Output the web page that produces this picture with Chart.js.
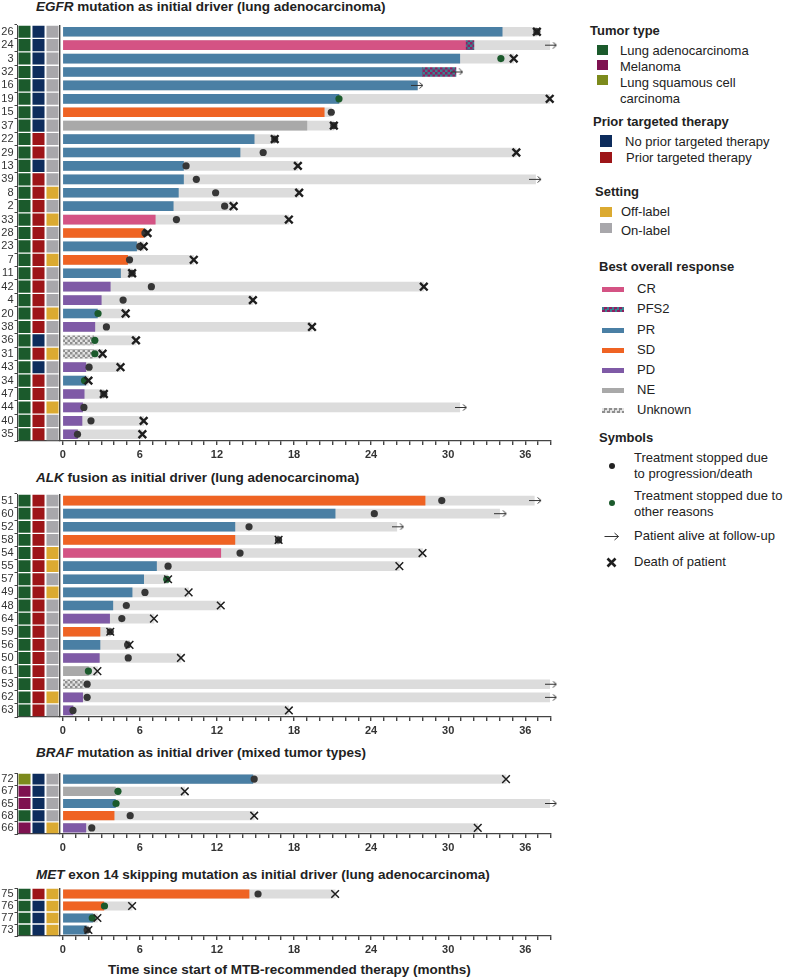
<!DOCTYPE html>
<html>
<head>
<meta charset="utf-8">
<script src="https://cdn.jsdelivr.net/npm/chart.js@4.4.0/dist/chart.umd.min.js"></script>
<style>
body { margin:0; background:#fff; font-family:"Liberation Sans", Arial, sans-serif; color:#222; }
#page { position:relative; width:785px; height:979px; overflow:hidden; }
canvas { position:absolute; left:0; }
.ptitle { position:absolute; left:36px; font-weight:bold; font-size:13.5px; line-height:16px; white-space:nowrap; }
.lg { position:absolute; font-size:13px; line-height:16px; white-space:nowrap; color:#222; }
.lh { font-weight:bold; }
.sw { position:absolute; width:12px; height:11px; }
.ln { position:absolute; width:22px; height:5px; }
svg.sym { position:absolute; }
</style>
</head>
<body>
<div id="page">
  <div class="ptitle" style="top:-1px"><i>EGFR</i> mutation as initial driver (lung adenocarcinoma)</div>
  <div class="ptitle" style="top:470px"><i>ALK</i> fusion as initial driver (lung adenocarcinoma)</div>
  <div class="ptitle" style="top:745px"><i>BRAF</i> mutation as initial driver (mixed tumor types)</div>
  <div class="ptitle" style="top:867px"><i>MET</i> exon 14 skipping mutation as initial driver (lung adenocarcinoma)</div>
  <div class="ptitle" style="top:962px;left:108px">Time since start of MTB-recommended therapy (months)</div>

  <canvas id="egfr" width="560" height="10"></canvas>
  <canvas id="alk" width="560" height="10"></canvas>
  <canvas id="braf" width="560" height="10"></canvas>
  <canvas id="met" width="560" height="10"></canvas>

  <div id="legend">
    <svg class="sym" style="left:604px;top:532px" width="16" height="9"><path d="M0.5 4.5 H14.5 M10.5 1 L14.5 4.5 L10.5 8" stroke="#333" stroke-width="1" fill="none"/></svg>
    <svg class="sym" style="left:606px;top:557px" width="11" height="11"><path d="M1.5 1.5 L9.5 9.5 M9.5 1.5 L1.5 9.5" stroke="#1e1e1e" stroke-width="2.6" fill="none"/></svg>
  </div>
</div>

<script>
// ---- data (months) ----
const monthTicks = [0,1,2,3,4,5,6,7,8,9,10,11,12,13,14,15,16,17,18,19,20,21,22,23,24,25,26,27,28,29,30,31,32,33,34,35,36,37,38];
const tickLabels = [0, 6, 12, 18, 24, 30, 36];

// EGFR
const egfrIds = ['26','24','3','32','16','19','15','37','22','29','13','39','8','2','33','28','23','7','11','42','4','20','38','36','31','43','34','47','44','40','35'];
const egfrTumor = ['A','A','A','A','A','A','A','A','A','A','A','A','A','A','A','A','A','A','A','A','A','A','A','A','A','A','A','A','A','A','A'];
const egfrPrior = ['N','N','N','N','N','N','N','N','P','P','N','P','P','P','P','P','P','P','P','P','P','P','P','N','P','N','P','P','P','P','P'];
const egfrSetting = ['On','On','On','On','On','On','On','On','On','On','On','On','Off','On','Off','On','On','Off','On','On','On','Off','On','On','Off','On','On','On','Off','On','On'];
const egfrResponse = ['PR','CR','PR','PR','PR','PR','SD','NE','PR','PR','PR','PR','PR','PR','CR','SD','PR','SD','PR','PD','PD','PR','PD','UNK','UNK','PD','PR','PD','PD','PD','PD'];
const egfrRespEnd = [34.2,31.4,30.9,28.0,27.6,21.5,20.35,19.0,14.9,13.8,9.4,9.4,9.0,8.6,7.2,6.3,5.75,5.05,4.5,3.7,3.0,2.7,2.5,2.4,2.4,1.8,1.8,1.67,1.55,1.5,1.15];
const egfrFollowUp = [36.9,37.9,35.1,30.6,27.6,37.9,20.9,21.1,16.5,35.3,18.3,36.8,18.4,13.3,17.6,6.5,6.3,10.2,5.4,28.1,14.8,4.9,19.4,5.7,3.1,4.5,2.0,3.2,30.9,6.3,6.2];
const egfrPfs2 = [null,[31.4,32.0],null,[28.0,30.6],null,null,null,null,null,null,null,null,null,null,null,null,null,null,null,null,null,null,null,null,null,null,null,null,null,null,null];
const egfrProgStop = [36.9,null,null,null,null,null,20.9,21.1,16.5,15.6,9.6,10.4,11.9,12.6,8.85,6.4,6.0,5.2,5.4,6.9,4.7,null,3.4,null,null,2.05,null,3.2,1.65,2.2,1.15];
const egfrOtherStop = [null,null,34.1,null,null,21.5,null,null,null,null,null,null,null,null,null,null,null,null,null,null,null,2.75,null,2.5,2.5,null,1.7,null,null,null,null];
const egfrDeath = [36.9,null,35.1,null,null,37.9,null,21.1,16.5,35.3,18.3,null,18.4,13.3,17.6,6.6,6.3,10.2,5.4,28.1,14.8,4.9,19.4,5.7,3.1,4.5,2.0,3.2,null,6.3,6.2];
const egfrAlive = [null,38.0,null,30.7,27.6,null,null,null,null,null,null,36.8,null,null,null,null,null,null,null,null,null,null,null,null,null,null,null,null,31.0,null,null];

// ALK
const alkIds = ['51','60','52','58','54','55','57','49','48','64','59','56','50','61','53','62','63'];
const alkTumor = ['A','A','A','A','A','A','A','A','A','A','A','A','A','A','A','A','A'];
const alkPrior = ['P','P','P','P','P','P','P','P','P','P','P','P','P','P','P','P','P'];
const alkSetting = ['On','On','On','On','Off','Off','On','Off','On','On','On','On','On','On','On','Off','On'];
const alkResponse = ['SD','PR','PR','SD','CR','PR','PR','PR','PR','PD','SD','PR','PD','NE','UNK','PD','PD'];
const alkRespEnd = [28.2,21.2,13.4,13.4,12.3,7.3,6.3,5.4,3.9,3.65,2.9,2.9,2.85,2.0,1.6,1.55,0.8];
const alkFollowUp = [36.7,34.0,26.0,16.8,28.0,26.2,8.2,9.8,12.3,7.1,3.7,5.2,9.2,2.7,37.9,37.9,17.6];
const alkProgStop = [29.5,24.25,14.5,16.8,13.8,8.2,null,6.4,4.95,4.6,3.7,5.05,5.1,null,1.9,1.9,0.8];
const alkOtherStop = [null,null,null,null,null,null,8.1,null,null,null,null,null,null,2.0,null,null,null];
const alkDeath = [null,null,null,16.8,28.0,26.2,8.2,9.8,12.3,7.1,3.7,5.2,9.2,2.7,null,null,17.6];
const alkAlive = [36.8,34.1,26.1,null,null,null,null,null,null,null,null,null,null,null,38.0,38.0,null];

// BRAF
const brafIds = ['72','67','65','68','66'];
const brafTumor = ['S','M','M','A','M'];
const brafPrior = ['N','N','N','N','N'];
const brafSetting = ['On','On','On','On','Off'];
const brafResponse = ['PR','NE','PR','SD','PD'];
const brafRespEnd = [14.8,4.1,4.1,4.0,1.8];
const brafFollowUp = [34.5,9.5,37.9,14.9,32.3];
const brafProgStop = [14.9,null,null,5.25,2.26];
const brafOtherStop = [null,4.3,4.15,null,null];
const brafDeath = [34.5,9.5,null,14.9,32.3];
const brafAlive = [null,null,38.0,null,null];

// MET
const metIds = ['75','76','77','73'];
const metTumor = ['A','A','A','A'];
const metPrior = ['P','N','N','N'];
const metSetting = ['Off','Off','Off','Off'];
const metResponse = ['SD','SD','PR','PR'];
const metRespEnd = [14.5,3.2,2.35,1.85];
const metFollowUp = [21.2,5.4,2.7,2.0];
const metProgStop = [15.2,null,null,1.9];
const metOtherStop = [null,3.25,2.3,null];
const metDeath = [21.2,5.4,2.7,2.0];
const metAlive = [null,null,null,null];

// ---- colours ----
const tumorColor = { A:'#1b5a2c', M:'#7e1250', S:'#7c8a1c' };
const priorColor = { N:'#0d2c5c', P:'#9d1518' };
const settingColor = { Off:'#dbaa31', On:'#a8a7ab' };
const FONT = '"Liberation Sans", Arial, sans-serif';
Chart.defaults.font.family = FONT;

function checker(a, b, s) {
  const c = document.createElement('canvas');
  c.width = s * 2; c.height = s * 2;
  const g = c.getContext('2d');
  g.fillStyle = a; g.fillRect(0, 0, s * 2, s * 2);
  g.fillStyle = b; g.fillRect(0, 0, s, s); g.fillRect(s, s, s, s);
  return g.createPattern(c, 'repeat');
}
const unknownFill = checker('#e2e2e2', '#8f8f8f', 2.5);
const pfs2Fill = checker('#3b8090', '#8e1e62', 2.5);
const responseColor = { CR:'#d45384', PR:'#4a7fa4', SD:'#ef6323', PD:'#7f5aa6', NE:'#a9a9a9', UNK:unknownFill };

// arrow symbol for "alive at follow-up"
const arrowImg = (function () {
  const c = document.createElement('canvas');
  c.width = 13; c.height = 7;
  const g = c.getContext('2d');
  g.strokeStyle = '#333'; g.lineWidth = 1;
  g.beginPath(); g.moveTo(0, 3.5); g.lineTo(12, 3.5); g.stroke();
  g.beginPath(); g.moveTo(8.5, 0.5); g.lineTo(12, 3.5); g.lineTo(8.5, 6.5); g.stroke();
  return c;
})();

function pts(ids, vals) {
  const out = [];
  ids.forEach((id, i) => { if (vals[i] != null) out.push({ x: vals[i], y: id }); });
  return out;
}

function drawPanel(id, p, look) {
  const cv = document.getElementById(id);
  const padTop = 8, axisH = 30;
  cv.style.top = (look.top - padTop) + 'px';
  cv.height = look.bottom - look.top + padTop + axisH;
  const step = (look.bottom - look.top) / p.ids.length;
  const cellPct = (step - 1.3) / step;
  const cells = (col) => p.ids.map(() => [col + 0.07, col + 0.93]);
  const bar = { type:'bar', xAxisID:'x', grouped:false, barThickness:look.bar, borderWidth:0 };
  const heat = { type:'bar', xAxisID:'xh', grouped:false, categoryPercentage:1, barPercentage:cellPct, borderWidth:0, order:10 };
  const sym = { type:'scatter', xAxisID:'x', yAxisID:'y', clip:false };

  new Chart(cv, {
    type: 'bar',
    data: {
      labels: p.ids,
      datasets: [
        Object.assign({}, heat, { label:'Tumor type', data:cells(0), backgroundColor:p.tumor.map(t => tumorColor[t]) }),
        Object.assign({}, heat, { label:'Prior targeted therapy', data:cells(1), backgroundColor:p.prior.map(t => priorColor[t]) }),
        Object.assign({}, heat, { label:'Setting', data:cells(2), backgroundColor:p.setting.map(t => settingColor[t]) }),
        Object.assign({}, bar, { label:'Follow-up', data:p.followUp.map(v => [0, v]), backgroundColor:'#dcdcdc', order:9 }),
        Object.assign({}, bar, { label:'Best overall response', data:p.respEnd.map(v => [0, v]), backgroundColor:p.response.map(r => responseColor[r]), order:8 }),
        Object.assign({}, bar, { label:'PFS2', data:p.pfs2 || [], backgroundColor:pfs2Fill, order:7 }),
        Object.assign({}, sym, { label:'Stopped: progression/death', data:pts(p.ids, p.prog), pointStyle:'circle', pointRadius:3.6, pointBackgroundColor:'#363636', pointBorderWidth:0, order:3 }),
        Object.assign({}, sym, { label:'Stopped: other reasons', data:pts(p.ids, p.other), pointStyle:'circle', pointRadius:3.6, pointBackgroundColor:'#1b5a2c', pointBorderWidth:0, order:2 }),
        Object.assign({}, sym, { label:'Death', data:pts(p.ids, p.death), pointStyle:'crossRot', pointRadius:look.xr, pointBorderColor:'#1e1e1e', pointBorderWidth:look.xw, order:1 }),
        Object.assign({}, sym, { label:'Alive', data:pts(p.ids, p.alive), pointStyle:arrowImg, pointRadius:5, order:0 })
      ]
    },
    options: {
      indexAxis: 'y',
      responsive: false,
      animation: false,
      layout: { padding: { top: padTop, right: 9, bottom: 0, left: 0 } },
      plugins: { legend: { display:false }, tooltip: { enabled:false }, title: { display:false } },
      scales: {
        y: {
          type: 'category', position: 'left', offset: true,
          grid: { drawOnChartArea:false, drawTicks:true, tickLength:3, tickColor:'#444' },
          border: { display:true, color:'#444', width:1 },
          ticks: { font:{ size:11 }, color:'#333', padding:1, autoSkip:false },
          afterFit: s => { s.width = 17.5; }
        },
        xh: {
          type: 'linear', position: 'bottom', min: 0, max: 3, stack: 'time', stackWeight: 42,
          grid: { display:false },
          border: { display:true, color:'#444', width:1.3 },
          ticks: { display:false },
          afterFit: s => { s.height = axisH; }
        },
        x: {
          type: 'linear', position: 'bottom', min: -0.25, max: 38, stack: 'time', stackWeight: 491.5,
          afterBuildTicks: s => { s.ticks = [-0.25].concat(monthTicks).map(v => ({ value: v })); },
          grid: {
            drawOnChartArea: true, drawTicks: true, tickLength: 4, lineWidth: 1.4,
            color: c => (c.tick && c.tick.value === -0.25) ? '#444' : 'rgba(0,0,0,0)',
            tickColor: c => (c.tick && c.tick.value === -0.25) ? 'rgba(0,0,0,0)' : '#444'
          },
          border: { display:true, color:'#444', width:1.3 },
          ticks: {
            autoSkip: false, maxRotation: 0, padding: 3, color: '#333',
            font: { size: 11, weight: 'bold' },
            callback: v => tickLabels.includes(v) ? String(v) : ''
          },
          afterFit: s => { s.height = axisH; }
        }
      }
    }
  });
}

drawPanel('egfr', { ids:egfrIds, tumor:egfrTumor, prior:egfrPrior, setting:egfrSetting, response:egfrResponse,
  respEnd:egfrRespEnd, followUp:egfrFollowUp, pfs2:egfrPfs2, prog:egfrProgStop, other:egfrOtherStop, death:egfrDeath, alive:egfrAlive },
  { top:25, bottom:441, bar:9, xr:5.4, xw:2.4 });
drawPanel('alk', { ids:alkIds, tumor:alkTumor, prior:alkPrior, setting:alkSetting, response:alkResponse,
  respEnd:alkRespEnd, followUp:alkFollowUp, pfs2:null, prog:alkProgStop, other:alkOtherStop, death:alkDeath, alive:alkAlive },
  { top:493.5, bottom:716.6, bar:9, xr:5.4, xw:1.5 });
drawPanel('braf', { ids:brafIds, tumor:brafTumor, prior:brafPrior, setting:brafSetting, response:brafResponse,
  respEnd:brafRespEnd, followUp:brafFollowUp, pfs2:null, prog:brafProgStop, other:brafOtherStop, death:brafDeath, alive:brafAlive },
  { top:772.9, bottom:834.3, bar:8.5, xr:5.4, xw:1.5 });
drawPanel('met', { ids:metIds, tumor:metTumor, prior:metPrior, setting:metSetting, response:metResponse,
  respEnd:metRespEnd, followUp:metFollowUp, pfs2:null, prog:metProgStop, other:metOtherStop, death:metDeath, alive:metAlive },
  { top:887.8, bottom:936.4, bar:8.5, xr:5.4, xw:1.5 });

// ---- legend (html) ----
const legend = document.getElementById('legend');
function txt(x, yc, html, cls) {
  const d = document.createElement('div');
  d.className = 'lg' + (cls ? ' ' + cls : '');
  d.style.left = x + 'px'; d.style.top = (yc - 8) + 'px';
  d.innerHTML = html;
  legend.appendChild(d);
}
function box(cls, x, y, w, h, bg) {
  const d = document.createElement('div');
  d.className = cls;
  d.style.left = x + 'px'; d.style.top = y + 'px';
  if (w) d.style.width = w + 'px';
  if (h) d.style.height = h + 'px';
  d.style.background = bg;
  legend.appendChild(d);
  return d;
}
const checkCss = (a, b) => 'repeating-conic-gradient(' + a + ' 0 25%, ' + b + ' 0 50%) 0 0 / 5px 5px';

txt(590, 30.7, 'Tumor type', 'lh');
box('sw', 597, 44.5, 11, 10, tumorColor.A); txt(620, 50.7, 'Lung adenocarcinoma');
box('sw', 597, 59.5, 11, 10, tumorColor.M); txt(620, 67, 'Melanoma');
box('sw', 597, 75, 11, 10, tumorColor.S); txt(620, 82.7, 'Lung squamous cell'); txt(620, 99.3, 'carcinoma');

txt(593, 121.7, 'Prior targeted therapy', 'lh');
box('sw', 600, 135, 12, 12, priorColor.N); txt(625, 141.7, 'No prior targeted therapy');
box('sw', 600, 152, 12, 11, priorColor.P); txt(626, 158.3, 'Prior targeted therapy');

txt(595, 191.7, 'Setting', 'lh');
box('sw', 600, 207, 12, 10, settingColor.Off); txt(621, 212.3, 'Off-label');
box('sw', 600, 223, 12, 10, settingColor.On); txt(621, 231, 'On-label');

txt(599, 267.3, 'Best overall response', 'lh');
const respLegend = [['CR', responseColor.CR, 289], ['PFS2', checkCss('#8e1e62', '#3b8090'), 309.3], ['PR', responseColor.PR, 330],
  ['SD', responseColor.SD, 350], ['PD', responseColor.PD, 370], ['NE', responseColor.NE, 390], ['Unknown', checkCss('#8f8f8f', '#e2e2e2'), 410]];
respLegend.forEach(r => { box('ln', 602, r[2] - 2.5, 22, 5, r[1]); txt(637, r[2], r[0]); });

txt(599, 438.3, 'Symbols', 'lh');
box('sw', 608.7, 462.7, 6, 6, '#222').style.borderRadius = '50%';
txt(634, 458.3, 'Treatment stopped due'); txt(634, 474.3, 'to progression/death');
box('sw', 608.7, 500.3, 6, 6, '#1b5a2c').style.borderRadius = '50%';
txt(634, 495.7, 'Treatment stopped due to'); txt(634, 512.3, 'other reasons');
txt(634, 536, 'Patient alive at follow-up');
txt(634, 562.3, 'Death of patient');
</script>
</body>
</html>
